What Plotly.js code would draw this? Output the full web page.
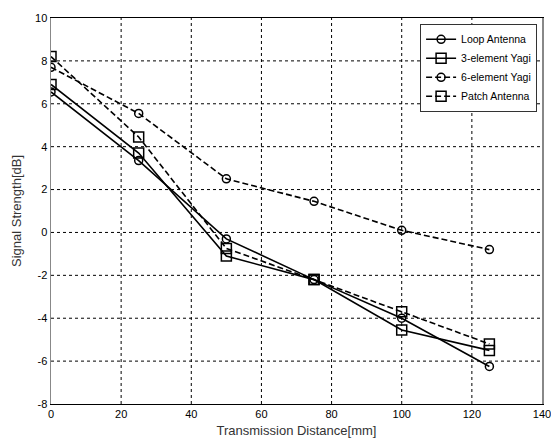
<!DOCTYPE html>
<html>
<head>
<meta charset="utf-8">
<script src="https://cdn.plot.ly/plotly-3.0.1.min.js"></script>
<style>html,body{margin:0;padding:0;background:#fff;}#chart{width:551px;height:441px;}</style>
</head>
<body>
<div id="chart"></div>
<script>
const distance = [0, 25, 50, 75, 100, 125];
const loopAntenna = [6.55, 3.35, -0.3, -2.2, -4.0, -6.25];
const yagi3 = [6.9, 3.7, -1.1, -2.2, -4.55, -5.5];
const yagi6 = [7.7, 5.55, 2.5, 1.45, 0.1, -0.8];
const patchAntenna = [8.2, 4.45, -0.75, -2.2, -3.7, -5.2];
const seriesNames = ["Loop Antenna", "3-element Yagi", "6-element Yagi", "Patch Antenna"];
const xTicks = [0, 20, 40, 60, 80, 100, 120, 140];
const yTicks = [-8, -6, -4, -2, 0, 2, 4, 6, 8, 10];

const fontFam = "'Liberation Sans Narrow', 'Arial Narrow', 'Liberation Sans', sans-serif";
function tr(y, name, dash, sym, msize) {
  return {
    x: distance, y: y, name: name, type: 'scatter', mode: 'lines+markers',
    line: {color: '#000', width: 1.6, dash: dash},
    marker: {symbol: sym, size: msize, color: '#000', line: {color: '#000', width: 1.5}}
  };
}
const data = [
  tr(loopAntenna, seriesNames[0], 'solid', 'circle-open', 8),
  tr(yagi3, seriesNames[1], 'solid', 'square-open', 10),
  tr(yagi6, seriesNames[2], '6px,3px', 'circle-open', 8),
  tr(patchAntenna, seriesNames[3], '6px,3px', 'square-open', 10)
];
// dotted grid lines at the tick values (interior ones only)
const gridStyle = {color: '#000', width: 1, dash: 'dot'};
const shapes = [];
xTicks.slice(1, -1).forEach(v => shapes.push({type: 'line', xref: 'x', yref: 'paper', x0: v, x1: v, y0: 0, y1: 1, line: gridStyle, layer: 'below'}));
yTicks.slice(1, -1).forEach(v => shapes.push({type: 'line', xref: 'paper', yref: 'y', x0: 0, x1: 1, y0: v, y1: v, line: gridStyle, layer: 'below'}));

const layout = {
  width: 551, height: 441,
  margin: {l: 51, r: 9, t: 18, b: 37},
  paper_bgcolor: '#fff', plot_bgcolor: '#fff',
  font: {family: fontFam, size: 11, color: '#000'},
  showlegend: true,
  shapes: shapes,
  legend: {x: 0.99, y: 0.985, xanchor: 'right', yanchor: 'top',
    bgcolor: '#fff', bordercolor: '#333', borderwidth: 1,
    font: {family: fontFam, size: 10.5}, tracegroupgap: 0},
  xaxis: {
    range: [0, 140], tickvals: xTicks, ticktext: xTicks.map(String),
    showgrid: false,
    zeroline: false, showline: true, linecolor: '#000', linewidth: 1, mirror: true,
    ticks: '', ticklabeloverflow: 'allow',
    title: {text: 'Transmission Distance[mm]', font: {family: fontFam, size: 13, color: '#333'}, standoff: 6},
    tickfont: {family: fontFam, size: 11}
  },
  yaxis: {
    range: [-8, 10], tickvals: yTicks, ticktext: yTicks.map(String),
    showgrid: false,
    zeroline: false, showline: true, linecolor: '#888', linewidth: 1.5, mirror: true,
    ticks: '', ticklabeloverflow: 'allow',
    title: {text: 'Signal Strength[dB]', font: {family: fontFam, size: 13, color: '#333'}, standoff: 10},
    tickfont: {family: fontFam, size: 11}
  }
};
Plotly.newPlot('chart', data, layout, {displayModeBar: false, staticPlot: true});
</script>
</body>
</html>
